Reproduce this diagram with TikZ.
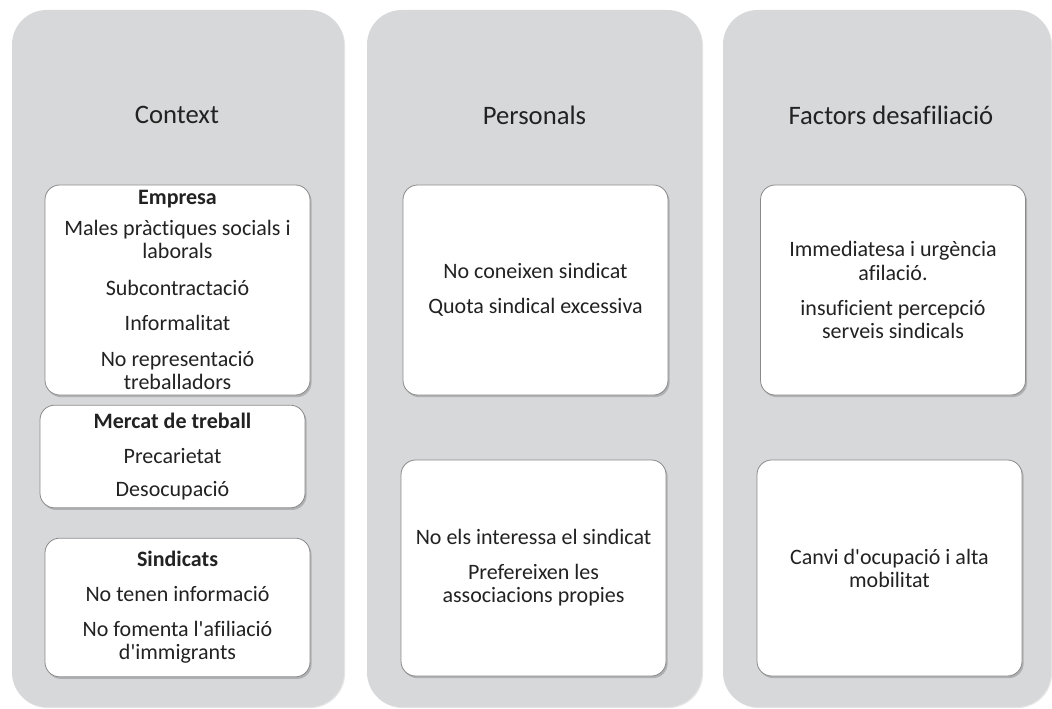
\documentclass[tikz,border=0pt]{standalone}
\usepackage{fontspec}
\setmainfont{Carlito}[Ligatures={NoCommon}]
\usetikzlibrary{shadows}

\definecolor{colgray}{HTML}{D7D8DA}
\definecolor{inkgray}{HTML}{222222}
\definecolor{edgegray}{HTML}{8A8A8A}

\tikzset{
  column/.style={rectangle, rounded corners=26pt, fill=colgray, inner sep=0pt,
    minimum height=522.75pt,
    drop shadow={shadow xshift=0.8pt, shadow yshift=-0.8pt, opacity=0.2}},
  heading/.style={font=\fontsize{20}{24}\selectfont, text=inkgray},
  cell/.style={rectangle, rounded corners=11pt, draw=edgegray, line width=0.6pt,
    fill=white, align=center, text=inkgray, inner sep=2pt,
    minimum width=198.75pt, font=\fontsize{16.5}{17.3}\selectfont,
    drop shadow={shadow xshift=1.2pt, shadow yshift=-1.6pt, opacity=0.45}},
}

\begin{document}
\begin{tikzpicture}[x=0.75pt,y=0.75pt]
        \useasboundingbox (0,0) rectangle (1052,708);

        % background columns
        \node[column, minimum width=249pt] (ctx) at (178,349.5) {};
        \node[column, minimum width=251.25pt] (pers) at (534.5,349.5) {};
        \node[column, minimum width=246pt] (fact) at (887,349.5) {};

        \node[heading] (ctxtitle) at (177,593) {Context};
        \node[heading] (perstitle) at (534.5,593) {Personals};
        \node[heading] (facttitle) at (891,593) {Factors desafiliació};

        % context
        \node[cell, minimum height=157.5pt] (empresa) at (177.5,418)
          {\textbf{Empresa}\\[6pt]
           Males pràctiques socials i\\laborals\\[10pt]
           Subcontractació\\[9pt]
           Informalitat\\[10pt]
           No representació\\treballadors};
        \node[cell, minimum height=77pt] (mercat) at (172.5,251.5)
          {\textbf{Mercat de treball}\\[9pt]
           Precarietat\\[8pt]
           Desocupació};
        \node[cell, minimum height=104pt] (sindicats) at (177.5,100.5)
          {\textbf{Sindicats}\\[9pt]
           No tenen informació\\[9pt]
           No fomenta l\textquotesingle afiliació\\d\textquotesingle immigrants};

        % personals
        \node[cell, minimum height=157.5pt] (pers1) at (535.5,418)
          {No coneixen sindicat\\[9pt]
           Quota sindical excessiva};
        \node[cell, minimum height=162pt] (pers2) at (533.5,140)
          {No els interessa el sindicat\\[9pt]
           Prefereixen les\\associacions propies};

        % factors
        \node[cell, minimum height=157.5pt] (fact1) at (893,418)
          {Immediatesa i urgència\\afilació.\\[9pt]
           insuficient percepció\\serveis sindicals};
        \node[cell, minimum height=162pt] (fact2) at (889.5,140)
          {Canvi d\textquotesingle ocupació i alta\\mobilitat};
\end{tikzpicture}
\end{document}
